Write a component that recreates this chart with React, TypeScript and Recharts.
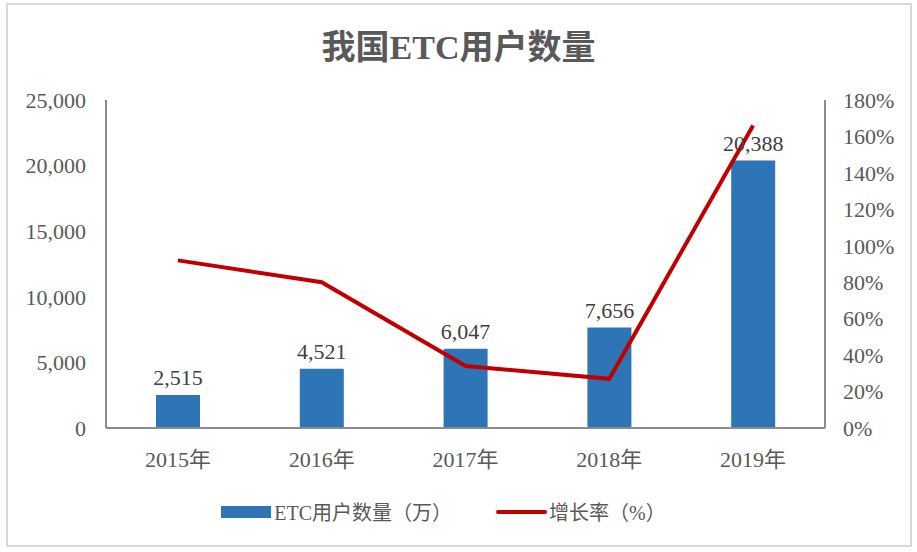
import React from 'react';
import {
  ComposedChart,
  Bar,
  Line,
  XAxis,
  YAxis,
  Legend,
  LabelList,
} from 'recharts';

const years = ['2015年', '2016年', '2017年', '2018年', '2019年'];
const users = [2515, 4521, 6047, 7656, 20388];
const growth = [92, 80, 34, 27, 166];

const leftTicks = [0, 5000, 10000, 15000, 20000, 25000];
const rightTicks = [0, 20, 40, 60, 80, 100, 120, 140, 160, 180];

const data = years.map((year, i) => ({ year, users: users[i], growth: growth[i] }));

const serif = '"Liberation Serif", "Times New Roman", "Noto Sans CJK SC", serif';
const BLUE = '#2E75B6';
const RED = '#C00000';
const AXIS = '#8C8C8C';
const TEXT = '#595959';

function LegendBox() {
  return (
    <div
      style={{
        display: 'flex',
        justifyContent: 'center',
        alignItems: 'center',
        fontFamily: serif,
        fontSize: 20,
        color: TEXT,
        paddingRight: 30,
      }}
    >
      <span style={{ display: 'inline-block', width: 50, height: 12, background: BLUE, marginRight: 3 }} />
      <span>ETC用户数量（万）</span>
      <span style={{ display: 'inline-block', width: 51, height: 4, borderRadius: 2, background: RED, marginLeft: 44, marginRight: 2 }} />
      <span>增长率（%）</span>
    </div>
  );
}

export default function App() {
  return (
    <div style={{ position: 'absolute', left: 0, top: 0, width: 917, height: 552, background: '#fff' }}>
      <div
        style={{
          position: 'absolute',
          left: 6,
          top: 3,
          width: 902,
          height: 540,
          border: '2px solid #D9D9D9',
        }}
      />
      <div
        style={{
          position: 'absolute',
          left: 0,
          top: 20,
          width: 917,
          textAlign: 'center',
          fontFamily: serif,
          fontWeight: 'bold',
          fontSize: 34,
          color: TEXT,
        }}
      >
        我国ETC用户数量
      </div>
      <div style={{ position: 'absolute', left: 0, top: 0 }}>
        <ComposedChart
          width={917}
          height={552}
          data={data}
          margin={{ top: 100, right: 0, bottom: 84, left: 0 }}
        >
          <XAxis
            dataKey="year"
            tickLine={false}
            tickSize={0}
            tickMargin={23}
            height={40}
            stroke={AXIS}
            strokeWidth={2}
            tick={{ fill: TEXT, fontSize: 22, fontFamily: serif }}
          />
          <YAxis
            yAxisId="left"
            width={106}
            domain={[0, 25000]}
            ticks={leftTicks}
            tickLine={false}
            tickSize={0}
            tickMargin={20}
            stroke={AXIS}
            strokeWidth={2}
            tickFormatter={(v) => Number(v).toLocaleString('en-US')}
            tick={{ fill: TEXT, fontSize: 22, fontFamily: serif }}
          />
          <YAxis
            yAxisId="right"
            orientation="right"
            width={92}
            domain={[0, 180]}
            ticks={rightTicks}
            tickLine={false}
            tickSize={0}
            tickMargin={18}
            stroke={AXIS}
            strokeWidth={2}
            tickFormatter={(v) => `${v}%`}
            tick={{ fill: TEXT, fontSize: 22, fontFamily: serif, textAnchor: 'start' }}
          />
          <Legend
            layout="horizontal"
            verticalAlign="middle"
            align="center"
            wrapperStyle={{ top: 497, left: 0, width: 917 }}
            content={() => <LegendBox />}
          />
          <Bar yAxisId="left" dataKey="users" fill={BLUE} barSize={44} isAnimationActive={false}>
            <LabelList
              dataKey="users"
              position="top"
              offset={10}
              formatter={(v: any) => Number(v).toLocaleString('en-US')}
              style={{ fill: '#404040', fontSize: 22, fontFamily: serif }}
            />
          </Bar>
          <Line
            yAxisId="right"
            dataKey="growth"
            type="linear"
            stroke={RED}
            strokeWidth={4}
            dot={false}
            activeDot={false}
            isAnimationActive={false}
          />
        </ComposedChart>
      </div>
    </div>
  );
}
